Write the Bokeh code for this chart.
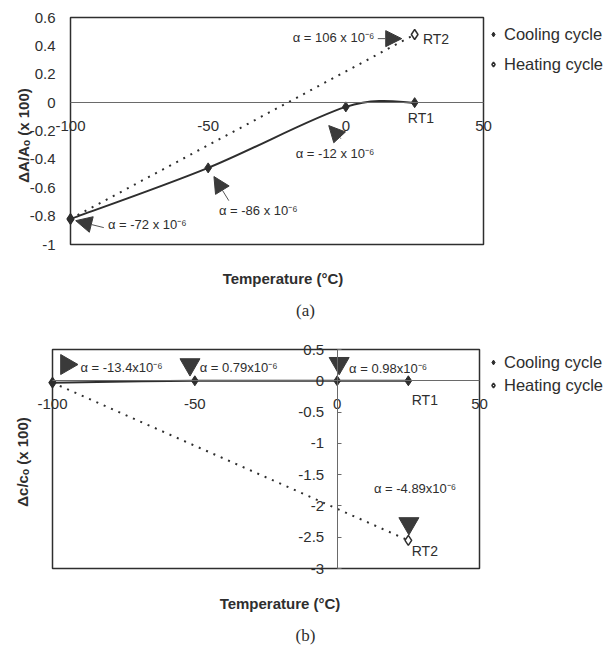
from bokeh.plotting import figure
from bokeh.layouts import column
from bokeh.models import (LinearAxis, FixedTicker, Range1d, Label, Arrow, NormalHead,
                          Legend, LegendItem)
from bokeh.embed import file_html
from bokeh.resources import INLINE

# ---------------- data ----------------
temp_cool = [-100, -50, 0, 25]
temp_heat = [-100, 25]
area_cool = [-0.82, -0.46, -0.03, 0.0]
area_heat = [-0.82, 0.48]
c_cool = [-0.03, 0.0, 0.0, 0.0]
c_heat = [-0.03, -2.55]

x_lim = (-100, 50)
a_lim = (-1.0, 0.6)
c_lim = (-3.0, 0.5)
x_ticks = [-100, -50, 0, 50]
x_tick_labels = ["-100", "-50", "0", "50"]
a_ticks = [-1.0, -0.8, -0.6, -0.4, -0.2, 0.0, 0.2, 0.4, 0.6]
a_tick_labels = ["-1", "-0.8", "-0.6", "-0.4", "-0.2", "0", "0.2", "0.4", "0.6"]
c_ticks = [-3.0, -2.5, -2.0, -1.5, -1.0, -0.5, 0.0, 0.5]
c_tick_labels = ["-3", "-2.5", "-2", "-1.5", "-1", "-0.5", "0", "0.5"]

series_names = ["Cooling cycle", "Heating cycle"]
point_names = ["RT1", "RT2"]
a_alpha = ["α = -72 x 10⁻⁶", "α = -86 x 10⁻⁶", "α = -12 x 10⁻⁶", "α = 106 x 10⁻⁶"]
c_alpha = ["α = -13.4x10⁻⁶", "α = 0.79x10⁻⁶", "α = 0.98x10⁻⁶", "α = -4.89x10⁻⁶"]
x_title = "Temperature (°C)"
a_title = "ΔA/Aₒ (x 100)"
c_title = "Δc/cₒ (x 100)"

# ---------------- style ----------------
FONT = "Liberation Sans"
SERIF = "Liberation Serif"
INK = "#2e2e2e"
AXIS = "#6a6a6a"
W = 605


def smooth(xs, ys, k=1.0 / 6):
    """Bezier control points (Excel-like smoothed line) through the given points."""
    n = len(xs)
    out = dict(x0=[], y0=[], x1=[], y1=[], cx0=[], cy0=[], cx1=[], cy1=[])
    for i in range(n - 1):
        xp, yp = (xs[i - 1], ys[i - 1]) if i > 0 else (xs[i], ys[i])
        xn, yn = (xs[i + 2], ys[i + 2]) if i + 2 < n else (xs[i + 1], ys[i + 1])
        out["x0"].append(xs[i]); out["y0"].append(ys[i])
        out["x1"].append(xs[i + 1]); out["y1"].append(ys[i + 1])
        out["cx0"].append(xs[i] + (xs[i + 1] - xp) * k)
        out["cy0"].append(ys[i] + (ys[i + 1] - yp) * k)
        out["cx1"].append(xs[i + 1] - (xn - xs[i]) * k)
        out["cy1"].append(ys[i + 1] - (yn - ys[i]) * k)
    return out


def base_fig(height, ylim, box):
    """box = (left, right, top, bottom) pixel position of the plot box in the canvas."""
    l, r, t, b = box
    xs = (x_lim[1] - x_lim[0]) / (r - l)
    ys = (ylim[1] - ylim[0]) / (b - t)
    xr = Range1d(x_lim[0] - l * xs, x_lim[1] + (W - r) * xs)
    yr = Range1d(ylim[0] - (height - b) * ys, ylim[1] + t * ys)
    p = figure(width=W, height=height, x_range=xr, y_range=yr,
               output_backend="svg", toolbar_location=None,
               x_axis_location=None, y_axis_location=None,
               min_border_left=0, min_border_right=0, min_border_top=0, min_border_bottom=0)
    p.xgrid.visible = False
    p.ygrid.visible = False
    p.outline_line_color = None
    p.background_fill_color = "white"
    p.border_fill_color = "white"
    p.quad(left=[x_lim[0]], right=[x_lim[1]], bottom=[ylim[0]], top=[ylim[1]],
           fill_color=None, line_color=INK, line_width=1.5)
    return p


def tick_axis(ticks, labels, line_color=AXIS, **kw):
    return LinearAxis(ticker=FixedTicker(ticks=ticks),
                      major_label_overrides={t: l for t, l in zip(ticks, labels)},
                      major_label_text_font=FONT, major_label_text_font_size="15px",
                      major_label_text_color=INK, axis_line_color=line_color,
                      major_tick_line_color=AXIS, minor_tick_line_color=None,
                      minor_tick_out=0, minor_tick_in=0, major_tick_out=0, **kw)


def title_axis(text, standoff, loc, bounds):
    return LinearAxis(ticker=FixedTicker(ticks=[]), axis_label=text, fixed_location=loc,
                      bounds=bounds, axis_line_color=None, major_tick_out=0, major_tick_in=0,
                      minor_tick_out=0, minor_tick_in=0,
                      axis_label_standoff=standoff, axis_label_text_font=FONT,
                      axis_label_text_font_size="15px", axis_label_text_font_style="bold",
                      axis_label_text_color=INK)


def add_series(p, cx, cy, hx, hy):
    p.bezier(line_color=INK, line_width=2, **smooth(cx, cy))
    p.line(hx, hy, line_color=INK, line_width=2, line_dash="2 6")
    rh = p.scatter(hx, hy, marker="diamond", size=10, fill_color="white", line_color=INK,
                   line_width=1.5)
    rc = p.scatter(cx, cy, marker="diamond", size=10, fill_color=INK, line_color=INK)
    return rc, rh


def add_legend(p, rc, rh, loc, spacing):
    lg = Legend(items=[LegendItem(label=series_names[0], renderers=[rc]),
                       LegendItem(label=series_names[1], renderers=[rh])],
                location=loc, border_line_color=None, background_fill_alpha=0,
                label_text_font=FONT, label_text_font_size="16.5px", label_text_color=INK,
                glyph_width=12, glyph_height=20, label_height=20, spacing=spacing,
                padding=0, margin=0, label_standoff=5)
    p.add_layout(lg)


def txt(p, x, y, s, size="13px", align="left"):
    p.add_layout(Label(x=x, y=y, text=s, text_font=FONT, text_font_size=size,
                       text_color=INK, text_align=align, text_baseline="middle"))


def caption(p, x, y, s):
    p.add_layout(Label(x=x, y=y, x_units="screen", y_units="screen", text=s,
                       text_font=SERIF, text_font_size="17px", text_color=INK,
                       text_align="center", text_baseline="middle"))


def arrow(p, xs, ys, xe, ye):
    p.add_layout(Arrow(end=NormalHead(size=16, fill_color="#3a3a3a", line_color="#3a3a3a"),
                       x_start=xs, y_start=ys, x_end=xe, y_end=ye,
                       line_color="#555555", line_width=1))


# ---------------- (a) ----------------
HA = 320
pa = base_fig(HA, a_lim, (70, 483, 17, 244))
pa.add_layout(tick_axis(a_ticks, a_tick_labels, line_color=None, fixed_location=x_lim[0],
                        bounds=a_lim, major_tick_in=0, major_label_standoff=15), "left")
pa.add_layout(title_axis(a_title, 39, x_lim[0], (a_lim[0] - 0.06, a_lim[1])), "left")
pa.add_layout(tick_axis(x_ticks, x_tick_labels, fixed_location=0, bounds=x_lim,
                        major_tick_in=0, major_label_standoff=18), "below")
pa.add_layout(title_axis(x_title, 25, a_lim[0], (x_lim[0] + 2, x_lim[1] + 2)), "below")

rc, rh = add_series(pa, temp_cool, area_cool, temp_heat, area_heat)
add_legend(pa, rc, rh, (487, HA - 74), 10)

txt(pa, -86.4, -0.86, a_alpha[0])
txt(pa, -46.1, -0.76, a_alpha[1])
txt(pa, -18.2, -0.36, a_alpha[2])
txt(pa, -19.3, 0.458, a_alpha[3])
txt(pa, 28.0, 0.45, point_names[1], size="14px")
txt(pa, 22.5, -0.106, point_names[0], size="14px")
arrow(pa, -87.9, -0.881, -98.1, -0.832)
arrow(pa, -42.5, -0.691, -47.9, -0.521)
arrow(pa, -1.8, -0.254, -6.2, -0.162)
arrow(pa, 11.6, 0.451, 20.3, 0.451)
caption(pa, 305, HA - 310, "(a)")

# ---------------- (b) ----------------
HB = 328
pb = base_fig(HB, c_lim, (52, 479, 29, 248))
pb.add_layout(tick_axis(c_ticks, c_tick_labels, fixed_location=0, bounds=c_lim,
                        major_tick_in=4, major_label_standoff=13), "left")
pb.add_layout(title_axis(c_title, 22, x_lim[0], (c_lim[0] - 0.1, c_lim[1])), "left")
pb.add_layout(tick_axis(x_ticks, x_tick_labels, fixed_location=0, bounds=x_lim,
                        major_tick_in=0, major_label_standoff=18), "below")
pb.add_layout(title_axis(x_title, 26, c_lim[0], (x_lim[0] + 5, x_lim[1] + 5)), "below")

rc2, rh2 = add_series(pb, temp_cool, c_cool, temp_heat, c_heat)
add_legend(pb, rc2, rh2, (487, HB - 75), 3)

pb.scatter([-95.1], [0.26], marker="triangle", angle=-1.5708, size=20,
           fill_color="#3a3a3a", line_color="#3a3a3a")
pb.scatter([-51.7, 0.7, 25.2], [0.26, 0.28, -2.28], marker="inverted_triangle", size=20,
           fill_color="#3a3a3a", line_color="#3a3a3a")
txt(pb, -90.2, 0.22, c_alpha[0])
txt(pb, -48.3, 0.22, c_alpha[1])
txt(pb, 4.2, 0.20, c_alpha[2])
txt(pb, 12.9, -1.72, c_alpha[3])
txt(pb, 26.2, -0.31, point_names[0], size="14px")
txt(pb, 26.2, -2.72, point_names[1], size="14px")
caption(pb, 305, HB - 315, "(b)")

layout = column(pa, pb, spacing=0)
open("out.html", "w").write(file_html(layout, INLINE))
